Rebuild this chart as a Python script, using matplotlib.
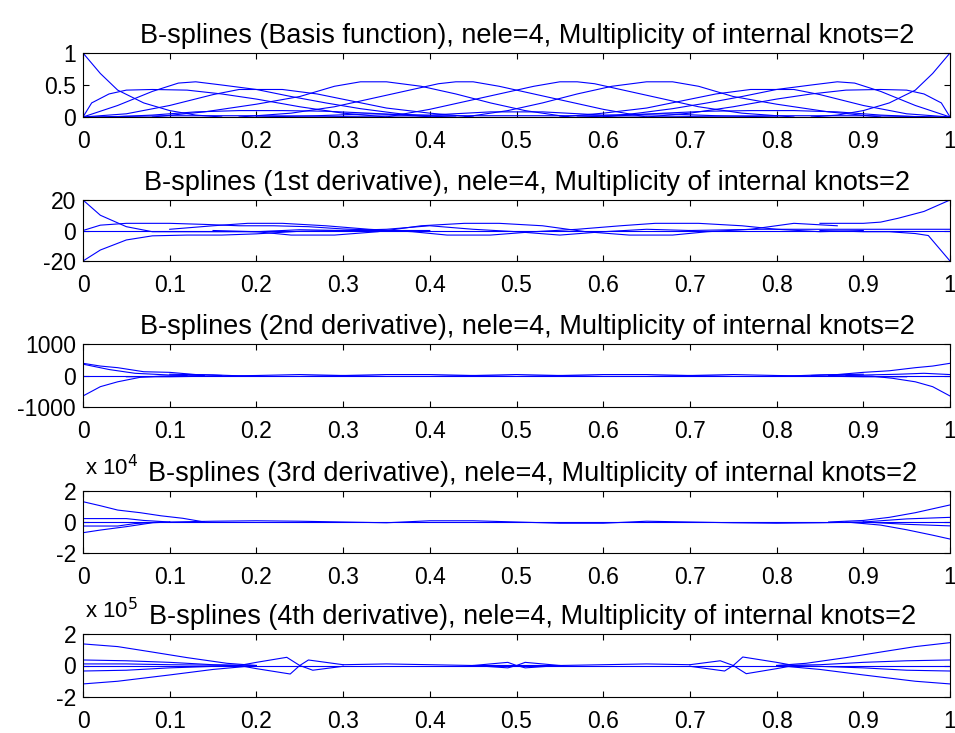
import matplotlib.pyplot as plt

plt.rcParams['font.family'] = ['Liberation Sans', 'DejaVu Sans']
plt.rcParams['font.size'] = 16.5

suffix = ', nele=4, Multiplicity of internal knots=2'
titles = ['B-splines (Basis function)' + suffix,
          'B-splines (1st derivative)' + suffix,
          'B-splines (2nd derivative)' + suffix,
          'B-splines (3rd derivative)' + suffix,
          'B-splines (4th derivative)' + suffix]

x_ticks = [0, 0.1, 0.2, 0.3, 0.4, 0.5, 0.6, 0.7, 0.8, 0.9, 1]
x_tick_labels = ['0', '0.1', '0.2', '0.3', '0.4', '0.5', '0.6', '0.7', '0.8', '0.9', '1']
y_ticks = [[0, 0.5, 1], [-20, 0, 20], [-1000, 0, 1000], [-2, 0, 2], [-2, 0, 2]]
y_tick_labels = [['0', '0.5', '1'], ['-20', '0', '20'], ['-1000', '0', '1000'],
                 ['-2', '0', '2'], ['-2', '0', '2']]
y_limits = [(0, 1), (-20, 20), (-1000, 1000), (-2, 2), (-2, 2)]
exponents = [None, None, None, '4', '5']   # "x 10^n" multiplier shown above the axes

# basis functions
basis_curves = [
    ([0, .02, .04, .07, .10, .13, .16], [1, .68, .42, .22, .10, .03, 0]),
    ([.84, .87, .90, .93, .96, .98, 1], [0, .03, .10, .22, .42, .68, 1]),
    ([0, .01, .03, .05, .08, .12, .16, .20, .25, .30, .35], [0, .22, .36, .42, .43, .42, .36, .28, .16, .06, 0]),
    ([.65, .70, .75, .80, .84, .88, .92, .95, .97, .99, 1], [0, .06, .16, .28, .36, .42, .43, .42, .36, .22, 0]),
    ([0, .04, .08, .11, .13, .16, .20, .24, .28, .32, .36, .40], [0, .18, .40, .53, .55, .50, .43, .32, .22, .13, .06, 0]),
    ([.60, .64, .68, .72, .76, .80, .84, .87, .89, .92, .96, 1], [0, .06, .13, .22, .32, .43, .50, .55, .53, .40, .18, 0]),
    ([0, .05, .10, .15, .18, .23, .27, .31, .35, .40, .45], [0, .05, .18, .35, .43, .43, .36, .25, .14, .06, 0]),
    ([.55, .60, .65, .69, .73, .77, .82, .85, .90, .95, 1], [0, .06, .14, .25, .36, .43, .43, .35, .18, .05, 0]),
    ([.03, .08, .13, .18, .23, .28, .33, .38, .43], [0, .03, .08, .10, .10, .09, .06, .02, 0]),
    ([.57, .62, .67, .72, .77, .82, .87, .92, .97], [0, .02, .06, .09, .10, .10, .08, .03, 0]),
    ([.08, .14, .20, .25, .29, .32, .35, .39, .43, .47, .51, .56], [0, .08, .20, .32, .48, .55, .55, .48, .36, .22, .10, 0]),
    ([.44, .49, .53, .57, .61, .65, .68, .71, .75, .80, .86, .92], [0, .10, .22, .36, .48, .55, .55, .48, .32, .20, .08, 0]),
    ([.18, .24, .29, .33, .37, .41, .43, .45, .48, .52, .56, .60, .65], [0, .06, .16, .28, .40, .52, .55, .55, .48, .36, .24, .12, 0]),
    ([.35, .40, .44, .48, .52, .55, .57, .59, .63, .67, .71, .76, .82], [0, .12, .24, .36, .48, .55, .55, .52, .40, .28, .16, .06, 0]),
    ([.20, .27, .33, .40, .47, .53, .60, .67, .73, .80], [0, .02, .05, .03, .08, .08, .03, .05, .02, 0]),
    ([0, .1, .2, .3, .4, .5, .6, .7, .8, .9, 1], [0, .02, .02, .01, .02, .02, .02, .01, .02, .02, 0]),
    ([0, 1], [0, 0]),
]

first_deriv_curves = [
    ([0, .02, .05, .08, .12, .20, .25, .30], [20, 10, 2.5, -0.8, -0.8, -0.8, 0.5, 0]),
    ([0, .02, .05, .08, .12, .16, .20, .25, .30, .35], [-20, -12.8, -6.2, -3.5, -3, -3, -2.2, -0.5, 0, 0]),
    ([0, .02, .05, .10, .14, .18, .22, .26, .30, .35, .40], [0, 3.5, 4.7, 4.7, 4.0, 3.1, 3.1, 2.5, 1, 0, 0]),
    ([.10, .15, .19, .23, .28, .33, .38, .42, .47, .52, .57, .62, .66, .71, .76, .80, .85, .90],
     [0.8, 3.1, 4.7, 4.7, 3.1, 0.8, -0.8, -3, -3, -0.8, 0.8, 3.1, 4.7, 4.7, 3.1, 0.8, -0.8, 0]),
    ([.15, .20, .24, .29, .34, .39, .44, .48, .53, .58, .63, .68, .72, .77, .82, .87],
     [0, -0.8, -3, -3, -0.8, 3.1, 4.7, 4.7, 3.1, -0.8, -3, -3, -0.8, 0.8, 4.7, 3.1]),
    ([.30, .35, .40, .45, .50, .55, .60, .65, .70], [0, 0.8, 3.1, 0.8, -0.8, -3, -0.8, 0.8, 0]),
    ([.85, .90, .92, .94, .97, 1], [4.7, 4.7, 5.5, 8, 12.5, 20]),
    ([.85, .90, .93, .96, .975, 1], [0, -0.8, -0.8, -2, -3.3, -20]),
    ([.70, .78, .86, .92, 1], [0, 0.8, 0.8, 0.8, 0.8]),
    ([0, 1], [0, 0]),
]

second_deriv_curves = [
    ([0, .02, .04, .07, .10, .13, .16], [387, 300, 248, 120, 100, 30, 0]),
    ([0, .02, .04, .066, .09, .12], [-650, -355, -200, -57, -20, 0]),
    ([0, .03, .06, .10, .14], [360, 190, 70, 15, 0]),
    ([.84, .87, .90, .93, .96, .98, 1], [0, 30, 100, 150, 248, 300, 387]),
    ([.88, .91, .934, .96, .98, 1], [0, -20, -90, -200, -355, -650]),
    ([.86, .90, .94, .97, 1], [0, 15, 40, 70, 30]),
    ([.05, .10, .15, .20, .25, .30, .35, .40, .45, .50, .55, .60, .65, .70, .75, .80, .85, .90, .95],
     [-40, -40, -20, 0, 30, 0, -30, -30, 0, 30, 0, -30, -30, 0, 30, 0, -20, -40, -40]),
    ([.10, .15, .20, .25, .30, .35, .40, .45, .50, .55, .60, .65, .70, .75, .80, .85, .90],
     [40, 20, -30, -30, 0, 30, 30, 0, -30, 0, 30, 30, 0, -30, -30, 20, 40]),
    ([0, 1], [0, 0]),
]

# third derivative, in units of 1e4
third_deriv_curves = [
    ([0, .02, .04, .066, .09, .115, .14], [1.31, 1.05, .77, .60, .40, .24, 0]),
    ([0, .02, .05, .08, .10], [-.69, -.52, -.30, -.05, 0]),
    ([0, .04, .06, .09], [-.26, -.26, -.10, 0]),
    ([0, .05, .07, .10], [.22, .22, .10, 0]),
    ([.86, .90, .93, .96, .98, 1], [0, .10, .30, .60, .85, 1.10]),
    ([.88, .92, .95, .98, 1], [0, -.20, -.50, -.85, -1.10]),
    ([.90, .95, 1], [0, .20, .30]),
    ([.90, .95, 1], [0, -.15, -.25]),
    ([.10, .15, .20, .25, .30, .35, .40, .45, .50, .55, .60, .65, .70, .75, .80, .85, .90],
     [0, .05, .08, .05, 0, -.05, .08, .08, 0, -.08, -.08, .05, 0, -.05, -.08, -.05, 0]),
    ([0, 1], [0, 0]),
]

# fourth derivative, in units of 1e5
fourth_deriv_curves = [
    ([0, .04, .077, .12, .166, .20], [1.37, 1.20, .88, .50, .14, 0]),
    ([0, .05, .10, .15, .20], [.35, .30, .20, .05, 0]),
    ([0, .05, .10, .18], [.10, .10, .05, 0]),
    ([0, .05, .10, .18], [-.35, -.30, -.15, 0]),
    ([0, .04, .10, .15, .20], [-1.17, -1.00, -.60, -.25, 0]),
    ([.18, .20, .235, .25, .265, .30], [0, .20, .52, 0, -.30, -.05]),
    ([.18, .20, .239, .25, .26, .30], [0, -.20, -.54, 0, .35, .05]),
    ([.45, .49, .50, .51, .55], [0, .20, 0, -.15, 0]),
    ([.45, .49, .50, .51, .55], [0, -.15, 0, .20, 0]),
    ([.70, .735, .75, .765, .80, .82], [.05, .30, 0, -.52, -.20, 0]),
    ([.70, .74, .75, .761, .80, .82], [-.05, -.35, 0, .54, .20, 0]),
    ([.30, .35, .40, .45, .55, .60, .65, .70], [.05, .10, .05, 0, 0, .05, .10, .05]),
    ([.80, .834, .88, .923, .96, 1], [0, .14, .50, .88, 1.20, 1.45]),
    ([.80, .85, .90, .96, 1], [0, -.25, -.60, -1.00, -1.17]),
    ([.80, .85, .90, .95, 1], [0, .05, .20, .30, .35]),
    ([.82, .90, .95, 1], [0, -.15, -.30, -.35]),
    ([0, 1], [0, 0]),
]

panels = [basis_curves, first_deriv_curves, second_deriv_curves,
          third_deriv_curves, fourth_deriv_curves]

W, H = 955, 733
left_px, right_px = 83, 950
rows_px = [(53, 117), (200, 261), (344, 407), (491, 553), (634, 697)]
# title centres in pixels; the reference titles sit a little right of centre
title_cx_px = [527, 527, 527, 533, 533]

fig = plt.figure(figsize=(W / 100, H / 100), dpi=100)

for i, curves in enumerate(panels):
    top, bot = rows_px[i]
    ax = fig.add_axes([left_px / W, 1 - bot / H, (right_px - left_px) / W, (bot - top) / H])
    for xs, ys in curves:
        ax.plot(xs, ys, color='#0000ff', lw=0.8)
    ax.set_xlim(0, 1)
    ax.set_ylim(*y_limits[i])
    ax.set_xticks(x_ticks)
    ax.set_xticklabels(x_tick_labels)
    ax.set_yticks(y_ticks[i])
    ax.set_yticklabels(y_tick_labels[i])
    ax.tick_params(direction='in', top=True, right=True, length=4, width=0.8)
    ax.tick_params(axis='x', pad=9)
    ax.tick_params(axis='y', pad=5)
    for sp in ax.spines.values():
        sp.set_linewidth(0.8)
    ax.set_title(titles[i], fontsize=19.5, pad=7,
                 x=(title_cx_px[i] - left_px) / (right_px - left_px))
    if exponents[i]:
        # baseline of the multiplier sits about 16 px above the axes
        fig.text(85 / W, 1 - (top - 16) / H, r'x 10$^{%s}$' % exponents[i],
                 fontsize=16, ha='left', va='baseline')

fig.savefig('out.png', dpi=100)
